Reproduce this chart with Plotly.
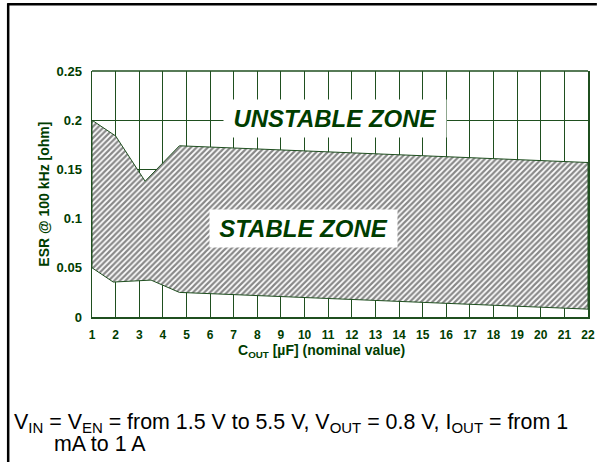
import plotly.graph_objects as go

# ---- data ----
upper_x = [1, 2, 3.25, 4.7, 22]
upper_y = [0.200, 0.184, 0.138, 0.174, 0.157]
lower_x = [1, 1.9, 3.5, 4.7, 22]
lower_y = [0.050, 0.0355, 0.0375, 0.025, 0.008]
x_ticks = list(range(1, 23))
y_ticks = [0, 0.05, 0.1, 0.15, 0.2, 0.25]
y_tick_labels = ["0", "0.05", "0.1", "0.15", "0.2", "0.25"]
zone_labels = ["UNSTABLE ZONE", "STABLE ZONE"]
zone_x = [11.28, 9.96]
zone_y = [0.2017, 0.0899]

GREEN_TXT = "#003d00"
GREEN_GRID = "#1f4f1f"

W, H = 599, 462
L, R, T, B = 92, 4, 71, 145
PW, PH = W - L - R, H - T - B


def px(xp):
    return (xp - L) / PW


def py(yp):
    return (H - B - yp) / PH


poly_x = upper_x + lower_x[::-1] + [upper_x[0]]
poly_y = upper_y + lower_y[::-1] + [upper_y[0]]

fig = go.Figure()
fig.add_trace(go.Scatter(
    x=poly_x, y=poly_y, mode="lines", fill="toself",
    line=dict(color=GREEN_GRID, width=1),
    fillcolor="white",
    fillpattern=dict(shape="/", bgcolor="white", fgcolor="#111111",
                     size=4, solidity=0.55),
    hoverinfo="skip", showlegend=False,
))

fig.update_xaxes(
    range=[1, 22], tickmode="array", tickvals=x_ticks,
    ticktext=[str(v) for v in x_ticks],
    showgrid=True, gridcolor=GREEN_GRID, gridwidth=1,
    showline=True, linecolor=GREEN_GRID, linewidth=2,
    zeroline=False, ticks="", ticklabelstandoff=6,
    ticklabeloverflow="allow",
    tickfont=dict(family="Liberation Sans, Arial", size=12,
                  color=GREEN_TXT, weight="bold"),
)
fig.update_yaxes(
    range=[0, 0.25], tickmode="array", tickvals=y_ticks,
    ticktext=y_tick_labels,
    showgrid=True, gridcolor=GREEN_GRID, gridwidth=1,
    showline=True, linecolor=GREEN_GRID, linewidth=1.5, mirror=True,
    zeroline=False, ticks="", ticklabelstandoff=6,
    tickfont=dict(family="Liberation Sans, Arial", size=13,
                  color=GREEN_TXT, weight="bold"),
)

shapes = [
    # top border of plot
    dict(type="line", xref="paper", yref="paper", x0=0, x1=1, y0=1, y1=1,
         line=dict(color=GREEN_GRID, width=1.5)),
    # outer frame of the figure (left and top)
    dict(type="line", xref="paper", yref="paper", x0=px(7), x1=px(7),
         y0=py(3.5), y1=py(H + 5), line=dict(color="black", width=2.5)),
    dict(type="line", xref="paper", yref="paper", x0=px(6), x1=px(W + 5),
         y0=py(4.3), y1=py(4.3), line=dict(color="black", width=2.5)),
]

annotations = []
box_w = [222, 187]
for lab, zx, zy, bw in zip(zone_labels, zone_x, zone_y, box_w):
    annotations.append(dict(
        x=zx, y=zy, xref="x", yref="y", text="<b><i>" + lab + "</i></b>",
        showarrow=False, bgcolor="white", width=bw, height=37, borderpad=0,
        font=dict(family="Liberation Sans, Arial", size=24, color=GREEN_TXT),
        xanchor="center", yanchor="middle",
    ))

annotations.append(dict(
    x=px(43), y=py(194), xref="paper", yref="paper", textangle=-90,
    text="<b>ESR @ 100 kHz [ohm]</b>", showarrow=False,
    font=dict(family="Liberation Sans, Arial", size=14, color=GREEN_TXT),
    xanchor="center", yanchor="middle",
))
annotations.append(dict(
    x=px(325), y=py(351), xref="paper", yref="paper",
    text="<b>C<sub>OUT</sub> [µF] (nominal value)</b>", showarrow=False,
    font=dict(family="Liberation Sans, Arial", size=14, color=GREEN_TXT),
    xanchor="center", yanchor="middle",
))
annotations.append(dict(
    x=px(11), y=py(423), xref="paper", yref="paper",
    text="V<sub>IN</sub> = V<sub>EN</sub> = from 1.5 V to 5.5 V, "
         "V<sub>OUT</sub> = 0.8 V, I<sub>OUT</sub> = from 1",
    showarrow=False,
    font=dict(family="Liberation Sans, Arial", size=21.4, color="black"),
    xanchor="left", yanchor="middle",
))
annotations.append(dict(
    x=px(51), y=py(444), xref="paper", yref="paper",
    text="mA to 1 A", showarrow=False,
    font=dict(family="Liberation Sans, Arial", size=21.4, color="black"),
    xanchor="left", yanchor="middle",
))

fig.update_layout(
    width=W, height=H, margin=dict(l=L, r=R, t=T, b=B),
    paper_bgcolor="white", plot_bgcolor="white",
    shapes=shapes, annotations=annotations, showlegend=False,
)

fig.write_html(
    "out.html",
    config={"displayModeBar": False, "staticPlot": True},
    post_script="document.body.style.margin='0';"
                "document.body.style.overflow='hidden';",
)
